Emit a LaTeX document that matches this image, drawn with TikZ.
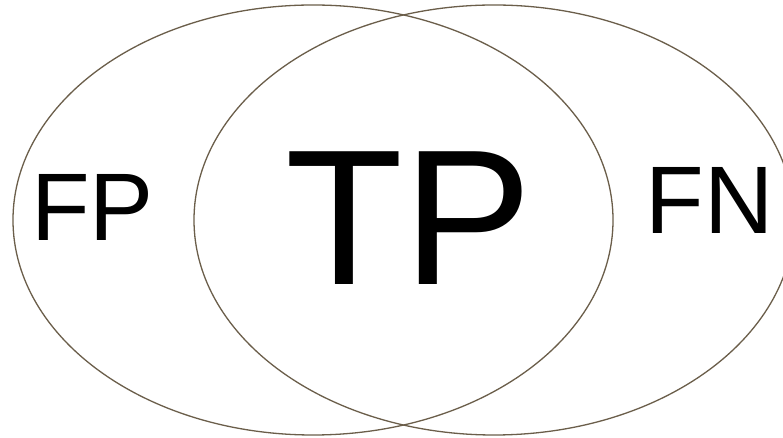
\documentclass[tikz,border=0pt]{standalone}
\usepackage{fontspec}
\setmainfont{Liberation Sans}
\definecolor{ringcol}{HTML}{6B5E4A}
\begin{document}
\begin{tikzpicture}[x=1pt,y=1pt,
  ring/.style={draw=ringcol,line width=1.3pt},
  lbl/.style={inner sep=0pt,anchor=base,text=black}]
\useasboundingbox (0,0) rectangle (783,438);
\clip (0,0) rectangle (783,438);
\fill[white] (0,0) rectangle (783,438);
\draw[ring] (313,218) ellipse [x radius=300, y radius=215];
\draw[ring] (494,218) ellipse [x radius=300, y radius=215];
\node[lbl] (fp) at (92.5,197) {\fontsize{96}{96}\selectfont FP};
\node[lbl] (tp) at (408.5,153) {\fontsize{193}{193}\selectfont TP};
\node[lbl] (fn) at (709.5,204) {\fontsize{96}{96}\selectfont FN};
\end{tikzpicture}
\end{document}
